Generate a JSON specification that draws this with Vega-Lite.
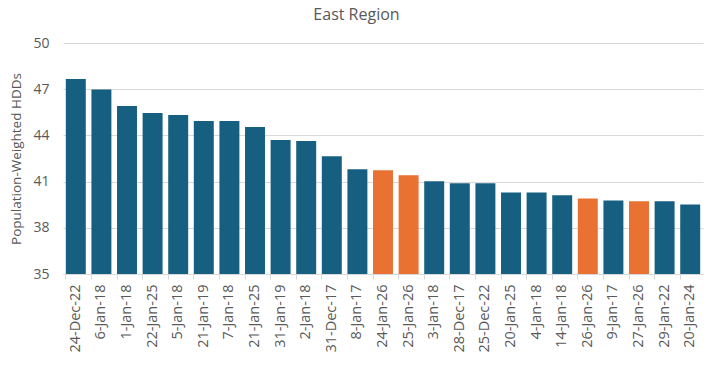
{
  "$schema": "https://vega.github.io/schema/vega-lite/v6.json",
  "autosize": {"type": "none"},
  "width": 640,
  "height": 231,
  "padding": {"left": 63, "top": 43, "right": 13, "bottom": 92},
  "background": "white",
  "title": {"text": "East Region", "frame": "bounds", "anchor": "middle", "font": "Open Sans", "fontSize": 16, "fontWeight": "normal", "color": "#595959", "offset": 13},
  "config": {"view": {"stroke": null}, "font": "Open Sans"},
  "data": {"values": [
    {"date": "24-Dec-22", "hdd": 47.67, "group": "past"},
    {"date": "6-Jan-18", "hdd": 46.98, "group": "past"},
    {"date": "1-Jan-18", "hdd": 45.91, "group": "past"},
    {"date": "22-Jan-25", "hdd": 45.46, "group": "past"},
    {"date": "5-Jan-18", "hdd": 45.33, "group": "past"},
    {"date": "21-Jan-19", "hdd": 44.93, "group": "past"},
    {"date": "7-Jan-18", "hdd": 44.93, "group": "past"},
    {"date": "21-Jan-25", "hdd": 44.54, "group": "past"},
    {"date": "31-Jan-19", "hdd": 43.70, "group": "past"},
    {"date": "2-Jan-18", "hdd": 43.63, "group": "past"},
    {"date": "31-Dec-17", "hdd": 42.65, "group": "past"},
    {"date": "8-Jan-17", "hdd": 41.80, "group": "past"},
    {"date": "24-Jan-26", "hdd": 41.74, "group": "forecast"},
    {"date": "25-Jan-26", "hdd": 41.41, "group": "forecast"},
    {"date": "3-Jan-18", "hdd": 41.03, "group": "past"},
    {"date": "28-Dec-17", "hdd": 40.89, "group": "past"},
    {"date": "25-Dec-22", "hdd": 40.89, "group": "past"},
    {"date": "20-Jan-25", "hdd": 40.30, "group": "past"},
    {"date": "4-Jan-18", "hdd": 40.30, "group": "past"},
    {"date": "14-Jan-18", "hdd": 40.11, "group": "past"},
    {"date": "26-Jan-26", "hdd": 39.91, "group": "forecast"},
    {"date": "9-Jan-17", "hdd": 39.78, "group": "past"},
    {"date": "27-Jan-26", "hdd": 39.72, "group": "forecast"},
    {"date": "29-Jan-22", "hdd": 39.72, "group": "past"},
    {"date": "20-Jan-24", "hdd": 39.52, "group": "past"}
  ]},
  "mark": {"type": "bar"},
  "encoding": {
    "x": {
      "field": "date", "type": "nominal", "sort": null,
      "scale": {"paddingInner": 0.22, "paddingOuter": 0.11},
      "axis": {
        "title": null, "labelAngle": -90, "labelFontSize": 14.5, "labelColor": "#595959",
        "labelPadding": 5, "bandPosition": 0, "tickColor": "#d9d9d9", "tickSize": 5,
        "domainColor": "#d9d9d9", "labelFont": "Open Sans"
      }
    },
    "y": {
      "field": "hdd", "type": "quantitative",
      "scale": {"domain": [35, 50], "zero": false, "nice": false},
      "axis": {
        "title": "Population-Weighted HDDs", "titleFontSize": 13.5, "titleFontWeight": "normal",
        "titleColor": "#595959", "titleFont": "Open Sans", "titlePadding": 9,
        "values": [35, 38, 41, 44, 47, 50], "labelFontSize": 14, "labelColor": "#595959",
        "labelPadding": 14, "ticks": false, "domain": false, "gridColor": "#d9d9d9", "labelFont": "Open Sans"
      }
    },
    "y2": {"datum": 35},
    "color": {
      "field": "group", "type": "nominal",
      "scale": {"domain": ["past", "forecast"], "range": ["#175F80", "#E97132"]},
      "legend": null
    }
  }
}
